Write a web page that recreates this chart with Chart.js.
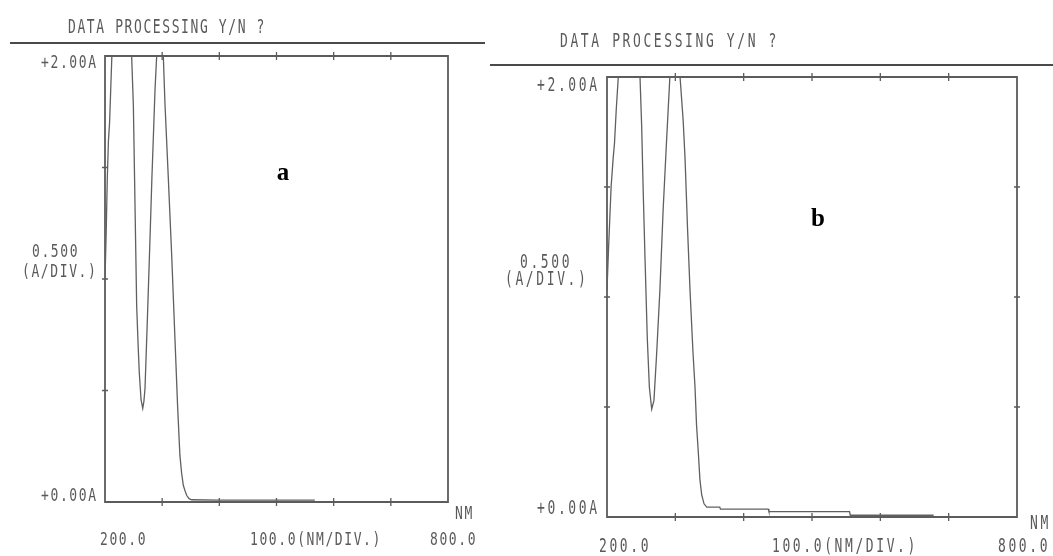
<!DOCTYPE html>
<html>
<head>
<meta charset="utf-8">
<script src="https://cdn.jsdelivr.net/npm/chart.js@4.4.1/dist/chart.umd.min.js"></script>
<style>
  html, body { margin: 0; padding: 0; background: #fff; }
  body { width: 1053px; height: 556px; position: relative; overflow: hidden; }
  canvas { position: absolute; top: 0; }
  #specA { left: 0; }
  #specB { left: 490px; }
</style>
</head>
<body>
<canvas id="specA" width="490" height="556"></canvas>
<canvas id="specB" width="563" height="556"></canvas>
<script>
// Absorbance scans, 200-800 nm, 0-2 A full scale (readings above 2.00 A sit on the top rail)
const nmA  = [200, 202, 204, 206, 208, 210, 212, 230, 246.6, 249.6, 252.5, 255.4, 258, 260, 263, 266, 268, 270, 274, 278.7, 282, 284.5, 287.5, 290.4, 296, 302, 305, 310.8, 316.6, 322.4, 327, 331, 334, 337, 340, 342.8, 347, 351.6, 400, 450, 500, 567];
const absA = [1.0, 1.2, 1.45, 1.62, 1.7, 1.85, 2.0, 2.0, 2.0, 1.78, 1.33, 0.88, 0.7, 0.58, 0.46, 0.42, 0.45, 0.51, 0.81, 1.18, 1.45, 1.63, 1.85, 2.0, 2.0, 2.0, 1.78, 1.45, 1.11, 0.73, 0.43, 0.21, 0.13, 0.075, 0.05, 0.03, 0.015, 0.01, 0.008, 0.008, 0.008, 0.008];

const nmB  = [200, 202, 204, 206, 209, 211, 213.5, 216.5, 230, 248.3, 250.7, 253, 255.6, 259, 262, 265.4, 268.7, 272.6, 277.4, 282.2, 287, 292, 300, 306.9, 311.5, 314.2, 318, 321.5, 325.8, 328.8, 331, 333.7, 336, 338.6, 342, 346, 365, 366, 436, 437, 555, 556, 678];
const absB = [1.03, 1.2, 1.35, 1.5, 1.63, 1.7, 1.85, 2.0, 2.0, 2.0, 1.78, 1.48, 1.18, 0.81, 0.59, 0.49, 0.53, 0.74, 1.03, 1.4, 1.7, 2.0, 2.0, 2.0, 1.8, 1.63, 1.3, 1.03, 0.75, 0.59, 0.42, 0.29, 0.17, 0.10, 0.06, 0.045, 0.045, 0.036, 0.036, 0.024, 0.024, 0.008, 0.008];

// Axis divisions
const xTicks = [200, 300, 400, 500, 600, 700, 800];
const yTicks = [0, 0.5, 1.0, 1.5, 2.0];

const headerText = 'DATA PROCESSING Y/N ?';
const yTopLabel = '+2.00A';
const yBottomLabel = '+0.00A';
const yDivLabel = ['0.500', '(A/DIV.)'];
const xLeftLabel = '200.0';
const xDivLabel = '100.0(NM/DIV.)';
const xRightLabel = '800.0';
const xUnit = 'NM';

const INK = '#5a5a5a';

function printerText(ctx, str, x, y, align, spacing, sy) {
  ctx.save();
  ctx.font = '13px "DejaVu Sans Mono", monospace';
  ctx.letterSpacing = spacing + 'px';
  ctx.fillStyle = INK;
  ctx.textBaseline = 'alphabetic';
  ctx.textAlign = 'left';
  let w = ctx.measureText(str).width - spacing;
  let x0 = align === 'right' ? x - w : x;
  ctx.translate(x0, y);
  ctx.scale(1, sy);
  ctx.fillText(str, 0, 0);
  ctx.restore();
}

// Frame, tick marks and printer annotations drawn from the chart's own scales
const plotterFrame = {
  id: 'plotterFrame',
  beforeDatasetsDraw(chart, args, o) {
    const ctx = chart.ctx;
    const xs = chart.scales.x, ys = chart.scales.y;
    const L = xs.getPixelForValue(200), R = xs.getPixelForValue(800);
    const T = ys.getPixelForValue(2), B = ys.getPixelForValue(0);
    ctx.save();
    ctx.strokeStyle = '#5c5c5c';
    ctx.lineWidth = 1.8;
    ctx.beginPath();
    ctx.moveTo(L, T); ctx.lineTo(R, T); ctx.lineTo(R, B); ctx.lineTo(L, B); ctx.closePath();
    ctx.stroke();
    ctx.lineWidth = 1.3;
    ctx.beginPath();
    xTicks.slice(1, -1).forEach(v => {
      const px = xs.getPixelForValue(v);
      ctx.moveTo(px, B - 4); ctx.lineTo(px, B + 4);
      ctx.moveTo(px, T - 4); ctx.lineTo(px, T + 4);
    });
    yTicks.slice(1, -1).forEach(v => {
      const py = ys.getPixelForValue(v);
      ctx.moveTo(L - 3, py); ctx.lineTo(L + 3, py);
      if (o.rightTicks) { ctx.moveTo(R - 3, py); ctx.lineTo(R + 3, py); }
    });
    ctx.stroke();
    // header rule
    ctx.lineWidth = 2;
    ctx.strokeStyle = '#4a4a4a';
    ctx.beginPath();
    ctx.moveTo(o.rule[0], o.rule[2]); ctx.lineTo(o.rule[1], o.rule[2]);
    ctx.stroke();
    ctx.restore();
  },
  afterDraw(chart, args, o) {
    const ctx = chart.ctx;
    const xs = chart.scales.x, ys = chart.scales.y;
    const L = xs.getPixelForValue(200), R = xs.getPixelForValue(800);
    const T = ys.getPixelForValue(2), B = ys.getPixelForValue(0);
    const sp = o.spacing, sy = o.sy;
    printerText(ctx, headerText, o.header[0], o.header[1], 'left', sp, sy + 0.1);
    printerText(ctx, yTopLabel, L - o.yGap, T + o.topDrop, 'right', sp, sy);
    printerText(ctx, yBottomLabel, L - o.yGap, B + o.botDrop, 'right', sp, sy);
    printerText(ctx, yDivLabel[0], o.div[0], o.div[1], 'left', sp, sy);
    printerText(ctx, yDivLabel[1], o.div[2], o.div[3], 'left', sp, sy);
    printerText(ctx, xLeftLabel, L + o.xl[0], B + o.xl[1], 'left', sp, sy);
    printerText(ctx, xDivLabel, o.xmid, B + o.xl[1], 'left', sp, sy);
    printerText(ctx, xRightLabel, R + o.xr, B + o.xl[1], 'left', sp, sy);
    printerText(ctx, xUnit, R + o.unit[0], B + o.unit[1], 'left', sp, sy);
    ctx.save();
    ctx.font = 'bold 25px "Liberation Serif", "DejaVu Serif", serif';
    ctx.fillStyle = '#000';
    ctx.textAlign = 'center';
    ctx.fillText(o.tag[0], o.tag[1], o.tag[2]);
    ctx.restore();
  }
};

function makeSpectrum(id, xs, ys, pad, frameOpts) {
  return new Chart(document.getElementById(id), {
    type: 'line',
    data: {
      datasets: [{
        data: xs.map((x, i) => ({ x: x, y: ys[i] })),
        borderColor: '#606060',
        borderWidth: 1.3,
        pointRadius: 0,
        tension: 0,
        fill: false
      }]
    },
    options: {
      responsive: false,
      animation: false,
      devicePixelRatio: 1,
      layout: { padding: pad },
      scales: {
        x: { type: 'linear', min: 200, max: 800, display: false },
        y: { type: 'linear', min: 0, max: 2, display: false }
      },
      plugins: {
        legend: { display: false },
        tooltip: { enabled: false },
        plotterFrame: frameOpts
      }
    },
    plugins: [plotterFrame]
  });
}

// Panel a: plot box 105..448 x 56..502
makeSpectrum('specA', nmA, absA,
  { left: 105, right: 42, top: 56, bottom: 54 },
  {
    spacing: 1.6, sy: 1.4, rightTicks: false,
    rule: [10, 485, 43],
    header: [68, 33],
    yGap: 9, topDrop: 12, botDrop: -1,
    div: [32, 257, 22, 277],
    xl: [-5, 43], xmid: 250, xr: -18, unit: [7, 17],
    tag: ['a', 283, 180]
  });

// Panel b: plot box 607..1017 x 77..517 (canvas offset 490)
makeSpectrum('specB', nmB, absB,
  { left: 117, right: 36, top: 77, bottom: 39 },
  {
    spacing: 2.6, sy: 1.45, rightTicks: true,
    rule: [0, 563, 65],
    header: [70, 47],
    yGap: 10, topDrop: 14, botDrop: -3,
    div: [30, 268, 15, 285],
    xl: [-8, 35], xmid: 282, xr: -19, unit: [13, 12],
    tag: ['b', 328, 226]
  });
</script>
</body>
</html>
